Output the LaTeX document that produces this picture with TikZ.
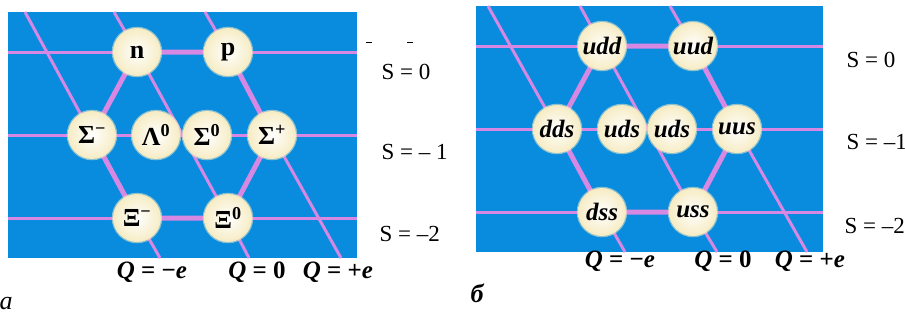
\documentclass[tikz,border=0pt]{standalone}
\usepackage{fontspec}
\setmainfont{Liberation Serif}
\usetikzlibrary{backgrounds}

\definecolor{panelblue}{RGB}{10,140,222}
\definecolor{gridpink}{RGB}{214,136,226}
\definecolor{ballcream}{RGB}{246,236,196}

\tikzset{
  hadron/.style={circle, minimum size=48pt, inner sep=0pt,
    inner color=white, outer color=ballcream,
    draw=ballcream, draw opacity=0.55, line width=2.5pt,
    font=\fontsize{26}{26}\selectfont\bfseries},
  quark/.style={hadron, font=\fontsize{25}{25}\selectfont\bfseries\itshape},
  gridline/.style={gridpink, line width=3pt},
  hexline/.style={gridpink, line width=5pt, line join=round},
  slabel/.style={anchor=west, font=\fontsize{23}{23}\selectfont},
  qlabel/.style={font=\fontsize{25}{25}\selectfont\bfseries},
  panelname/.style={font=\fontsize{26}{26}\selectfont\itshape},
}

\begin{document}
\begin{tikzpicture}[x=1pt,y=-1pt]
  \useasboundingbox (0,0) rectangle (905,322);
  % left: baryon octet
  \begin{scope}
    \node[hadron] (n) at (137,52) {n};
    \node[hadron] (p) at (228,52) {p};
    \node[hadron] (sm) at (92,135) {Σ\textsuperscript{−}};
    \node[hadron] (l0) at (156,135) {Λ\textsuperscript{0}};
    \node[hadron] (s0) at (207,135) {Σ\textsuperscript{0}};
    \node[hadron] (sp) at (272,135) {Σ\textsuperscript{+}};
    \node[hadron] (xm) at (137,218) {Ξ\textsuperscript{−}};
    \node[hadron] (x0) at (228,218) {Ξ\textsuperscript{0}};
    \begin{scope}[on background layer]
      \fill[panelblue] (8,12) rectangle (357,258);
      \coordinate (as0l) at (8,52);   \coordinate (as0r) at (357,52);
      \coordinate (as1l) at (8,135);  \coordinate (as1r) at (357,135);
      \coordinate (as2l) at (8,218);  \coordinate (as2r) at (357,218);
      \coordinate (aqmt) at (25,12);  \coordinate (aqmb) at (160,258);
      \coordinate (aq0t) at (114,12); \coordinate (aq0b) at (249,258);
      \coordinate (aqpt) at (205,12); \coordinate (aqpb) at (341,258);
      \draw[gridline] (as0l) -- (as0r);
      \draw[gridline] (as1l) -- (as1r);
      \draw[gridline] (as2l) -- (as2r);
      \draw[gridline] (aqmt) -- (sm.center) -- (xm.center) -- (aqmb);
      \draw[gridline] (aq0t) -- (n.center) -- (x0.center) -- (aq0b);
      \draw[gridline] (aqpt) -- (p.center) -- (sp.center) -- (aqpb);
      \draw[hexline] (n.center) -- (p.center) -- (sp.center) -- (x0.center)
        -- (xm.center) -- (sm.center) -- cycle;
    \end{scope}
    \node[slabel] (as0) at (378,72) {S = 0};
    \node[slabel] (as1) at (378,152) {S = – 1};
    \node[slabel] (as2) at (376,234) {S = –2};
    \node[qlabel] (aqm) at (152,272) {\textit{Q} = −\textit{e}};
    \node[qlabel] (aq0) at (257,272) {\textit{Q} = 0};
    \node[qlabel] (aqp) at (338,272) {\textit{Q} = +\textit{e}};
    \coordinate (ad1) at (366,42); \coordinate (ad2) at (372,42);
    \coordinate (ad3) at (407,42); \coordinate (ad4) at (413,42);
    \draw[line width=1pt] (ad1) -- (ad2);
    \draw[line width=1pt] (ad3) -- (ad4);
    \node[panelname] (alab) at (6,304) {a};
  \end{scope}
  % right: quark content
  \begin{scope}[xshift=465pt, yshift=6pt]
    \node[quark] (udd) at (137,52) {udd};
    \node[quark] (uud) at (228,52) {uud};
    \node[quark] (dds) at (92,135) {dds};
    \node[quark] (uds1) at (157,135) {uds};
    \node[quark] (uds2) at (207,135) {uds};
    \node[quark] (uus) at (272,135) {uus};
    \node[quark] (dss) at (137,218) {dss};
    \node[quark] (uss) at (228,218) {uss};
    \begin{scope}[on background layer]
      \fill[panelblue] (11,12) rectangle (358,258);
      \coordinate (bs0l) at (11,52);  \coordinate (bs0r) at (358,52);
      \coordinate (bs1l) at (11,135); \coordinate (bs1r) at (358,135);
      \coordinate (bs2l) at (11,218); \coordinate (bs2r) at (358,218);
      \coordinate (bqmt) at (23,12);  \coordinate (bqmb) at (160,258);
      \coordinate (bq0t) at (115,12); \coordinate (bq0b) at (252,258);
      \coordinate (bqpt) at (205,12); \coordinate (bqpb) at (342,258);
      \draw[gridline] (bs0l) -- (bs0r);
      \draw[gridline] (bs1l) -- (bs1r);
      \draw[gridline] (bs2l) -- (bs2r);
      \draw[gridline] (bqmt) -- (dds.center) -- (dss.center) -- (bqmb);
      \draw[gridline] (bq0t) -- (udd.center) -- (uss.center) -- (bq0b);
      \draw[gridline] (bqpt) -- (uud.center) -- (uus.center) -- (bqpb);
      \draw[hexline] (udd.center) -- (uud.center) -- (uus.center) -- (uss.center)
        -- (dss.center) -- (dds.center) -- cycle;
    \end{scope}
    \node[slabel] (bs0) at (378,66) {S = 0};
    \node[slabel] (bs1) at (378,148) {S = –1};
    \node[slabel] (bs2) at (376,232) {S = –2};
    \node[qlabel] (bqm) at (155,267) {\textit{Q} = −\textit{e}};
    \node[qlabel] (bq0) at (258,267) {\textit{Q} = 0};
    \node[qlabel] (bqp) at (345,267) {\textit{Q} = +\textit{e}};
    \node[panelname, font=\fontsize{26}{26}\selectfont\bfseries\itshape] (blab) at (12,299) {б};
  \end{scope}
\end{tikzpicture}
\end{document}
